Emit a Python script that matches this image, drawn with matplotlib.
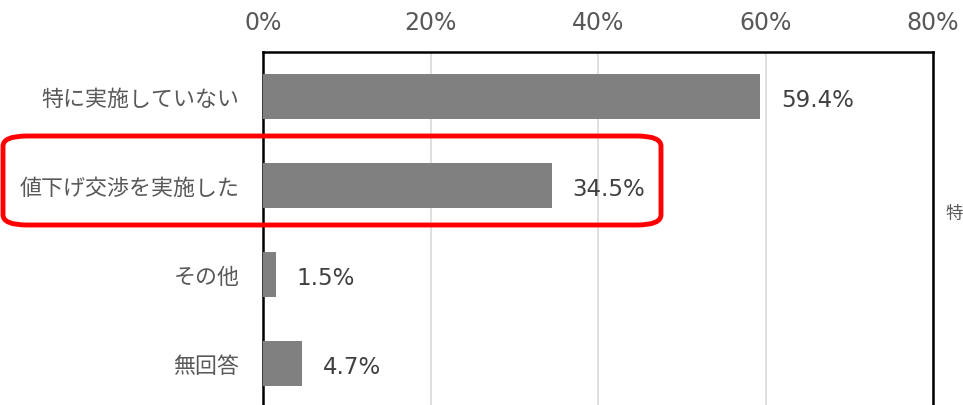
import matplotlib
matplotlib.use("Agg")
import matplotlib.pyplot as plt
from matplotlib.patches import FancyBboxPatch

plt.rcParams['font.family'] = ['Noto Sans CJK JP', 'DejaVu Sans']
num_font = ['DejaVu Sans', 'Noto Sans CJK JP']

categories = ['特に実施していない', '値下げ交渉を実施した', 'その他', '無回答']
values = [59.4, 34.5, 1.5, 4.7]
xticks = [0, 20, 40, 60, 80]
xtick_labels = ['0%', '20%', '40%', '60%', '80%']

W, H = 963, 406
fig = plt.figure(figsize=(W / 100, H / 100), dpi=100)
ax = fig.add_axes([263 / W, -3 / H, (933 - 263) / W, (409 - 53) / H])

y = list(range(len(categories)))
ax.barh(y, values, height=0.5, color='#808080', zorder=3)
ax.set_ylim(len(categories) - 0.5, -0.5)
ax.set_xlim(0, 80)

ax.set_xticks(xticks)
ax.set_xticklabels(xtick_labels, family=num_font)
ax.xaxis.tick_top()
ax.tick_params(axis='x', length=0, pad=13, labelsize=17, labelcolor='#595959')
ax.set_yticks(y)
ax.set_yticklabels(categories)
ax.tick_params(axis='y', length=0, pad=17, labelsize=15.8, labelcolor='#595959')

ax.grid(axis='x', color='#d9d9d9', linewidth=1.2, zorder=0)
for s in ['top', 'left', 'right']:
    ax.spines[s].set_color('black')
    ax.spines[s].set_linewidth(1.8)
ax.spines['bottom'].set_visible(False)

for yi, v in zip(y, values):
    ax.annotate(f'{v}%', (v, yi), xytext=(15, -2), textcoords='offset points',
                va='center', ha='left', fontsize=16.5, color='#404040', family=num_font)

# red highlight box round the second category
box = FancyBboxPatch((3 / W, 1 - 226 / H), (661 - 3) / W, (226 - 137) / H,
                     boxstyle='round,pad=0,rounding_size=0.025',
                     transform=fig.transFigure, fill=False,
                     edgecolor='#ff0000', linewidth=3.5, zorder=10)
fig.patches.append(box)

# text at the right edge (cut off in the source image)
fig.text(945 / W, 1 - 214 / H, '特', fontsize=12.5, color='#595959', va='center', ha='left')

fig.savefig('out.png', dpi=100)
